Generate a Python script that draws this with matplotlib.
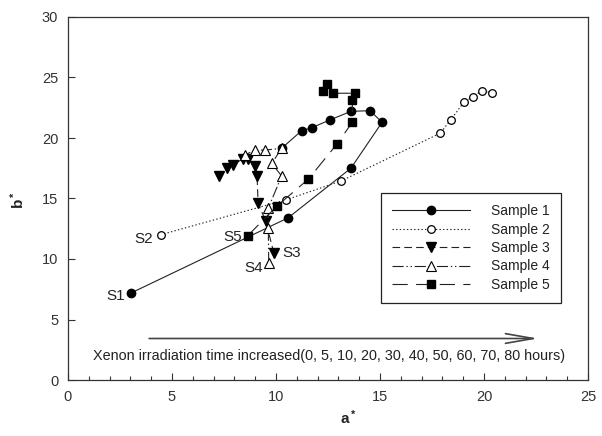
import matplotlib
matplotlib.use("Agg")
import matplotlib.pyplot as plt

plt.rcParams['font.family'] = ['Liberation Sans', 'DejaVu Sans']
plt.rcParams['lines.scale_dashes'] = False
plt.rcParams['mathtext.default'] = 'regular'

# ---- data (a*, b*) ----
s1_a = [3.03, 10.58, 13.6, 15.1, 14.52, 13.6, 12.6, 11.72, 11.23, 10.27]
s1_b = [7.19, 13.4, 17.5, 21.3, 22.26, 22.2, 21.5, 20.85, 20.6, 19.15]

s2_a = [4.45, 10.5, 13.13, 17.9, 18.4, 19.04, 19.46, 19.88, 20.4]
s2_b = [12.0, 14.9, 16.45, 20.4, 21.5, 22.98, 23.4, 23.9, 23.75]

s3_a = [9.9, 9.5, 9.14, 9.09, 8.99, 8.67, 8.4, 7.94, 7.63, 7.26]
s3_b = [10.47, 13.16, 14.6, 16.86, 17.7, 18.3, 18.27, 17.8, 17.5, 16.86]

s4_a = [9.65, 9.63, 9.63, 10.27, 9.8, 10.27, 9.47, 8.99, 8.5]
s4_b = [9.67, 12.55, 14.2, 16.86, 17.9, 19.15, 19.0, 19.0, 18.6]

s5_a = [8.64, 10.06, 11.55, 12.92, 13.67, 13.67, 13.8, 12.75, 12.27, 12.43]
s5_b = [11.92, 14.4, 16.59, 19.48, 21.3, 23.14, 23.7, 23.7, 23.88, 24.46]

series_names = ['Sample 1', 'Sample 2', 'Sample 3', 'Sample 4', 'Sample 5']
start_labels = ['S1', 'S2', 'S3', 'S4', 'S5']
arrow_text = 'Xenon irradiation time increased(0, 5, 10, 20, 30, 40, 50, 60, 70, 80 hours)'

fig = plt.figure(figsize=(6.02, 4.36), dpi=100)
ax = fig.add_axes([68/602, 1-380/436, 520/602, 363/436])

lc = '#222222'
lw = 0.8
ax.plot(s1_a, s1_b, color=lc, lw=lw, ls='-', marker='o', ms=6,
        mfc='black', mec='black', label=series_names[0])
ax.plot(s2_a, s2_b, color=lc, lw=lw, ls=(0, (1, 1.6)), marker='o', ms=5.5,
        mfc='white', mec='black', mew=0.9, label=series_names[1])
ax.plot(s3_a, s3_b, color=lc, lw=lw, ls=(0, (5.5, 3)), marker='v', ms=6.5,
        mfc='black', mec='black', label=series_names[2])
ax.plot(s4_a, s4_b, color=lc, lw=lw, ls=(0, (8, 2, 1, 2, 1, 2)), marker='^', ms=6.5,
        mfc='white', mec='black', mew=0.8, label=series_names[3])
ax.plot(s5_a, s5_b, color=lc, lw=lw, ls=(0, (11, 6)), marker='s', ms=6,
        mfc='black', mec='black', label=series_names[4])

# start labels
fs_lab = 11
ax.text(2.74, 6.94, start_labels[0], ha='right', va='center', fontsize=fs_lab, color='#222')
ax.text(4.09, 11.65, start_labels[1], ha='right', va='center', fontsize=fs_lab, color='#222')
ax.text(10.29, 10.5, start_labels[2], ha='left', va='center', fontsize=fs_lab, color='#222')
ax.text(9.39, 9.26, start_labels[3], ha='right', va='center', fontsize=fs_lab, color='#222')
ax.text(8.37, 11.78, start_labels[4], ha='right', va='center', fontsize=fs_lab, color='#222')

# arrow and annotation
ax.annotate('', xy=(22.6, 3.43), xytext=(3.9, 3.43),
            arrowprops=dict(arrowstyle='->,head_length=2.0,head_width=0.35',
                            lw=1.2, color='#444444', shrinkA=0, shrinkB=0))
ax.text(12.55, 1.98, arrow_text, ha='center', va='center', fontsize=10.4, color='#222')

ax.set_xlim(0, 25)
ax.set_ylim(0, 30)
ax.set_xticks([0, 5, 10, 15, 20, 25])
ax.set_xticks(range(0, 26), minor=True)
ax.set_yticks([0, 5, 10, 15, 20, 25, 30])
ax.tick_params(which='major', direction='in', length=5, width=0.8, labelsize=10.5,
               colors='#333333', pad=7)
ax.tick_params(which='minor', axis='x', direction='in', length=3, width=0.8, colors='#333333')
for sp in ax.spines.values():
    sp.set_linewidth(0.9)
    sp.set_color('#333333')

ax.set_xlabel('a$^*$', fontsize=11, fontweight='bold', color='#222')
ax.xaxis.set_label_coords(0.54, -0.078)
ax.set_ylabel('b$^*$', fontsize=11, fontweight='bold', color='#222')
ax.yaxis.set_label_coords(-0.079, 0.496)

leg = ax.legend(loc='upper left', bbox_to_anchor=(0.602, 0.515), borderaxespad=0,
                fancybox=False, edgecolor='#222222', framealpha=1, fontsize=10,
                handlelength=5.6, handletextpad=1.5, labelspacing=0.32,
                borderpad=0.8, numpoints=1)
leg.get_frame().set_linewidth(0.9)
for t in leg.get_texts():
    t.set_color('#222')

fig.savefig('out.png', dpi=100)
